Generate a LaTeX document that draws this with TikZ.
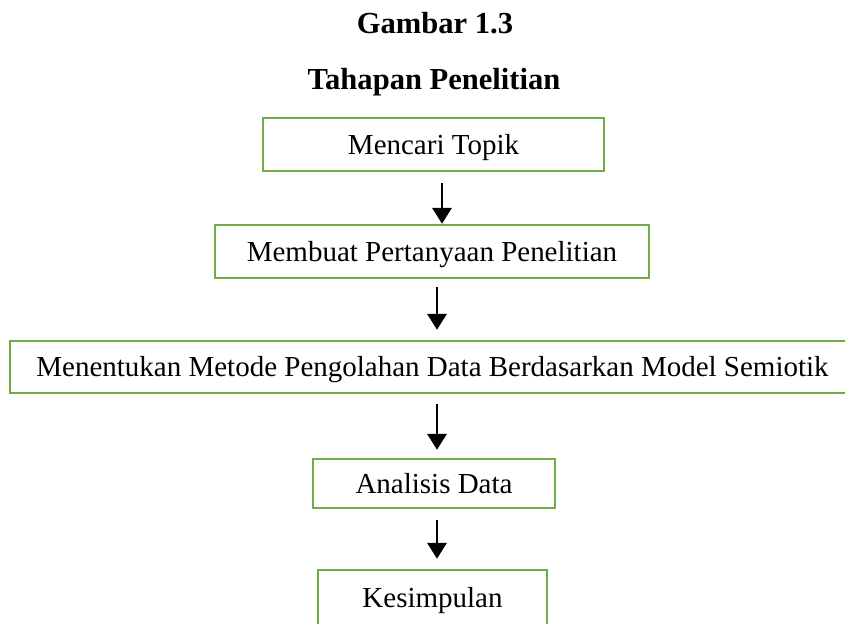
\documentclass[tikz,border=0pt]{standalone}
\usepackage{fontspec}
\setmainfont{Liberation Serif}
\usetikzlibrary{arrows.meta}
\definecolor{boxgreen}{RGB}{112,173,71}

\begin{document}
\begin{tikzpicture}[x=0.02cm, y=-0.02cm,
	tahap/.style={draw=boxgreen, line width=1.5pt, inner sep=0pt, text height=10.9pt, text depth=0pt, font=\fontsize{16.5}{20}\selectfont},
	judul/.style={anchor=base, inner sep=0pt, font=\fontsize{17.4}{21}\selectfont\bfseries},
	panah/.style={line width=1.2pt, -{Triangle[length=9pt, width=11pt]}}]
		%%%%% START %%%%%
		
		\clip (0, 0) rectangle (845, 623);
		
		\node[judul] (gambar) at (435, 33) {Gambar 1.3};
		\node[judul] (tahapan) at (434, 89) {Tahapan Penelitian};
		
		\node[tahap, minimum width=6.82cm, minimum height=1.06cm] (topik) at (433.5, 144.5) {Mencari Topik};
		\node[tahap, minimum width=8.68cm, minimum height=1.06cm] (tanya) at (432, 251.5) {Membuat Pertanyaan Penelitian};
		\node[tahap, minimum width=16.9cm, minimum height=1.04cm] (metode) at (432.5, 367) {Menentukan Metode Pengolahan Data Berdasarkan Model Semiotik};
		\node[tahap, minimum width=4.84cm, minimum height=0.98cm] (analisis) at (434, 483.5) {Analisis Data};
		\node[tahap, minimum width=4.58cm, minimum height=1.12cm] (simpul) at (432.5, 598) {Kesimpulan};
		
		\coordinate (x1) at (442, 0);
		\coordinate (x2) at (437, 0);
		
		\draw[panah, shorten <=0.22cm] (topik.south -| x1) -- (tanya.north -| x1);
		\draw[panah, shorten <=0.16cm, shorten >=0.2cm] (tanya.south -| x2) -- (metode.north -| x2);
		\draw[panah, shorten <=0.2cm, shorten >=0.16cm] (metode.south -| x2) -- (analisis.north -| x2);
		\draw[panah, shorten <=0.22cm, shorten >=0.2cm] (analisis.south -| x2) -- (simpul.north -| x2);
		
		%%%%% END %%%%%
	\end{tikzpicture}
\end{document}
